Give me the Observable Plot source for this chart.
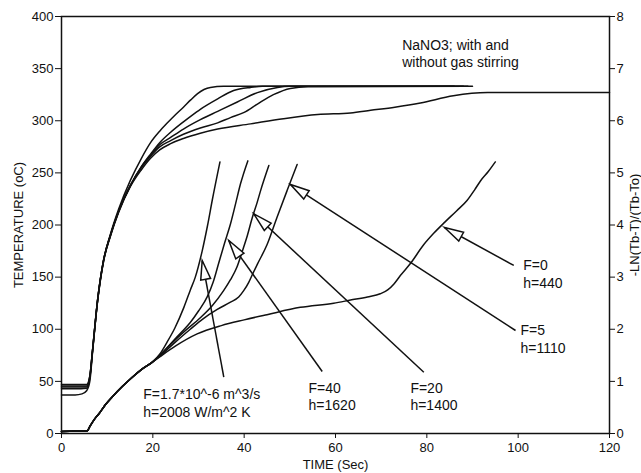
<!DOCTYPE html>
<html>
<head>
<meta charset="utf-8">
<script src="https://cdn.jsdelivr.net/npm/d3@7"></script>
<script src="https://cdn.jsdelivr.net/npm/@observablehq/plot@0.6"></script>
<style>
  body { margin: 0; background: #fff; }
  #chart svg { display: block; }
</style>
</head>
<body>
<div id="chart"></div>
<script>
// Bath temperature (left axis, °C) against time (s), one curve per gas flow rate
const tempF17 = [[0,47],[3,47],[5.5,47],[6.2,55],[6.8,80],[7.9,128],[9.2,166],[10.7,191],[12.5,215],[15.1,243],[17.5,264],[19.5,279],[21.5,290],[23.2,298],[25,306],[26.7,313],[28.3,320],[29.8,326],[31.2,330],[32.6,332],[35.5,333],[88,333]];
const tempF40 = [[0,45.5],[3,45.5],[5.5,45.5],[6.2,55],[6.8,80],[7.9,128],[9.2,166],[10.7,190],[12.5,213],[15.1,238],[17.5,256],[19.5,268],[21.5,279],[23.9,289],[26.7,299],[28.5,305],[30.4,311],[34.2,321],[37.7,329],[41.4,332],[44,333],[90,333]];
const tempF20 = [[0,44.5],[3,44.5],[5.5,44.5],[6.2,54],[6.8,80],[7.9,128],[9.2,166],[10.7,190],[12.5,213],[15.1,238],[17.5,256],[19.5,267],[21.5,277],[23.9,284],[26.7,292],[30.4,301],[34.2,309],[38.5,318],[42.9,327],[47.3,332],[50,333],[86,333]];
const tempF5  = [[0,43],[3,43],[5.5,43.5],[6.2,53],[6.8,79],[7.9,127],[9.2,165],[10.7,190],[12.5,213],[15.1,238],[17.5,255],[19.5,266],[21.5,275],[23.9,281],[26.7,287],[30.4,293],[34.2,298],[37,303],[40,308],[42.9,316],[46.4,325],[50.1,331],[54,332.5],[89,333]];
const tempF0  = [[0,37],[3,37],[4.5,38],[5.5,41],[6.2,50],[6.8,78],[7.9,127],[9.2,165],[10.7,189],[12.5,212],[15.1,237],[17.5,253],[19.5,264],[21.5,272],[23.9,278],[26.7,283],[30.4,288],[34.2,292],[41.4,297],[48.6,302],[56.1,306],[63.3,307.5],[67.7,310],[73,313],[78.6,317],[85.8,324],[93.3,327],[120,327]];

// -LN((Tb-T)/(Tb-To)) (right axis) against time (s)
const lnF17 = [[0,0.04],[3,0.05],[5.6,0.05],[6.3,0.15],[7.2,0.27],[8.2,0.38],[9.6,0.55],[11.1,0.7],[13.3,0.9],[15.5,1.08],[17.7,1.24],[19.9,1.37],[21.5,1.52],[23.1,1.75],[24.8,2.02],[26.8,2.42],[28.2,2.75],[29.3,3.0],[30.8,3.5],[32,4.0],[33,4.47],[34.7,5.21]];
const lnF40 = [[0,0.04],[3,0.05],[5.6,0.05],[6.3,0.15],[7.2,0.27],[8.2,0.38],[9.6,0.55],[11.1,0.7],[13.3,0.9],[15.5,1.08],[17.7,1.24],[19.9,1.37],[21.5,1.5],[23.9,1.72],[26,1.92],[28.2,2.13],[30,2.35],[31.9,2.62],[33.2,2.9],[34.4,3.26],[35.7,3.65],[37,4.02],[38.1,4.4],[39.2,4.79],[40.8,5.23]];
const lnF20 = [[0,0.04],[3,0.05],[5.6,0.05],[6.3,0.15],[7.2,0.27],[8.2,0.38],[9.6,0.55],[11.1,0.7],[13.3,0.9],[15.5,1.08],[17.7,1.24],[19.9,1.37],[21.5,1.49],[24,1.72],[26.8,1.95],[30.4,2.22],[33,2.45],[35.5,2.74],[37,2.95],[38.4,3.19],[39.6,3.5],[40.7,3.8],[41.8,4.15],[42.8,4.42],[43.6,4.66],[45.4,5.14]];
const lnF5  = [[0,0.04],[3,0.05],[5.6,0.05],[6.3,0.15],[7.2,0.27],[8.2,0.38],[9.6,0.55],[11.1,0.7],[13.3,0.9],[15.5,1.08],[17.7,1.24],[19.9,1.37],[21.5,1.48],[24.5,1.72],[28.2,2.0],[31,2.2],[34.1,2.38],[37,2.52],[38.8,2.62],[39.9,2.74],[41,2.9],[41.8,3.05],[42.9,3.25],[45,3.62],[47.2,4.15],[49.4,4.66],[51.6,5.16]];
const lnF0  = [[0,0.04],[3,0.05],[5.6,0.05],[6.3,0.15],[7.2,0.27],[8.2,0.38],[9.6,0.55],[11.1,0.7],[13.3,0.9],[15.5,1.08],[17.7,1.24],[19.9,1.37],[21.5,1.47],[25,1.68],[29.7,1.91],[35,2.07],[40,2.18],[45,2.28],[52.3,2.42],[59.6,2.5],[63.3,2.56],[67,2.62],[69.8,2.68],[71.5,2.76],[72.8,2.87],[74.2,3.03],[76.4,3.26],[79.3,3.62],[81.5,3.84],[84,4.06],[86.5,4.27],[88.8,4.47],[90.5,4.68],[91.7,4.84],[93.5,5.03],[95,5.21]];

// Axis ticks
const timeTicks = [0, 20, 40, 60, 80, 100, 120];
const tempTicks = [0, 50, 100, 150, 200, 250, 300, 350, 400];
const lnTicks = [0, 1, 2, 3, 4, 5, 6, 7, 8];

// Callouts: label text, label anchor (time, °C), arrow tail and tip (time, °C)
const calloutText = ["F=1.7*10^-6 m^3/s\nh=2008 W/m^2 K", "F=40\nh=1620", "F=20\nh=1400", "F=5\nh=1110", "F=0\nh=440"];
const calloutTime = [17.9, 54.1, 76.4, 100.5, 101.1];
const calloutTemp = [29.7, 36.0, 36.0, 91.1, 153.5];
const tailTime = [35.54, 57.09, 79.34, 99.42, 99.04];
const tailTemp = [54.0, 59.5, 58.8, 98.8, 161.2];
const tipTime = [30.81, 36.64, 42.11, 50.15, 83.87];
const tipTemp = [165.9, 185.1, 210.7, 238.8, 197.6];

const titleText = "NaNO3; with and\nwithout gas stirring";

// Right-axis values share the left y scale: 8 units span 0–400 °C
const lnToTemp = 400 / 8;

const W = 641, H = 473;
const M = {top: 16, right: 32, bottom: 40, left: 61};

const rows = (pts, k) => pts.map(([t, v]) => ({t, v: v * k}));
const tempCurves = [tempF17, tempF40, tempF20, tempF5, tempF0].map(p => rows(p, 1));
const lnCurves = [lnF17, lnF40, lnF20, lnF5, lnF0].map(p => rows(p, lnToTemp));

const callouts = calloutText.map((text, i) => ({
  text, lt: calloutTime[i], lv: calloutTemp[i],
  t1: tailTime[i], v1: tailTemp[i], t2: tipTime[i], v2: tipTemp[i]
}));

// Open triangular arrowhead, tip at the origin, pointing up
const arrowHead = {
  draw(context) {
    const L = 19, w = 10;
    context.moveTo(0, 0);
    context.lineTo(w / 2, L);
    context.lineTo(-w / 2, L);
    context.closePath();
  }
};

const xScale = Plot.scale({x: {domain: [0, 120], range: [M.left, W - M.right]}});
const yScale = Plot.scale({y: {domain: [0, 400], range: [H - M.bottom, M.top]}});
const headAngle = d => {
  const dx = xScale.apply(d.t2) - xScale.apply(d.t1);
  const dy = yScale.apply(d.v2) - yScale.apply(d.v1);
  return Math.atan2(dx, -dy) * 180 / Math.PI;
};

const lineStyle = {x: "t", y: "v", stroke: "#111", strokeWidth: 1.5, curve: "monotone-x"};

const chart = Plot.plot({
  width: W,
  height: H,
  marginTop: M.top,
  marginRight: M.right,
  marginBottom: M.bottom,
  marginLeft: M.left,
  style: {fontFamily: "'Liberation Sans', Arial, sans-serif", fontSize: "13px", color: "#111", background: "#fff"},
  x: {domain: [0, 120], label: null},
  y: {domain: [0, 400], label: null},
  marks: [
    ...tempCurves.map(d => Plot.line(d, lineStyle)),
    ...lnCurves.map(d => Plot.line(d, lineStyle)),
    Plot.link(callouts, {x1: "t1", y1: "v1", x2: "t2", y2: "v2", stroke: "#111", strokeWidth: 1.5}),
    Plot.dot(callouts, {x: "t2", y: "v2", symbol: arrowHead, r: 5, rotate: headAngle, fill: "#fff", stroke: "#111", strokeWidth: 1.5}),
    Plot.text(callouts, {x: "lt", y: "lv", text: "text", textAnchor: "start", lineAnchor: "middle", lineHeight: 1.25, fontSize: 14, fill: "#111"}),
    Plot.text([titleText], {x: 74.6, y: 365, text: d => d, textAnchor: "start", lineAnchor: "middle", lineHeight: 1.25, fontSize: 14, fill: "#111"}),
    Plot.frame({stroke: "#111", strokeWidth: 1.5}),
    Plot.axisX(timeTicks, {tickSize: 5, tickPadding: 4, fontSize: 13, label: "TIME (Sec)", labelAnchor: "center", labelArrow: "none", labelOffset: 35}),
    Plot.axisY(tempTicks, {anchor: "left", tickSize: 6, tickPadding: 2, fontSize: 13, label: "TEMPERATURE (oC)", labelAnchor: "center", labelArrow: "none", labelOffset: 48}),
    Plot.axisY(lnTicks, {anchor: "right", y: d => d * lnToTemp, tickFormat: d => String(d), tickSize: 5, tickPadding: 2, fontSize: 13, label: "-LN(Tb-T)/(Tb-To)", labelAnchor: "center", labelArrow: "none", labelOffset: 29})
  ]
});

document.getElementById("chart").appendChild(chart);
</script>
</body>
</html>
